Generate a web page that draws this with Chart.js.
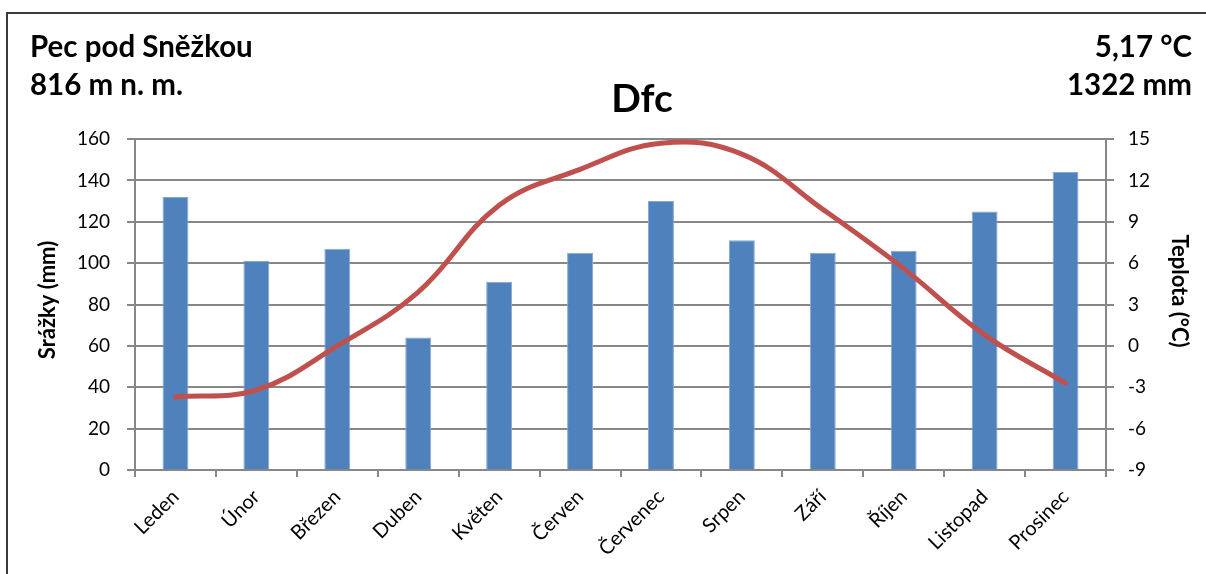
<!DOCTYPE html>
<html lang="cs">
<head>
<meta charset="utf-8">
<title>Pec pod Sněžkou – klimadiagram</title>
<script src="https://cdn.jsdelivr.net/npm/chart.js@4.4.1/dist/chart.umd.min.js"></script>
<style>
  html, body { margin: 0; padding: 0; background: #ffffff; }
  #wrap { width: 1206px; height: 574px; position: relative; }
  canvas { display: block; }
</style>
</head>
<body>
<div id="wrap"><canvas id="c" width="1206" height="574"></canvas></div>
<script>
// Měsíce
const months = ['Leden', 'Únor', 'Březen', 'Duben', 'Květen', 'Červen',
                'Červenec', 'Srpen', 'Září', 'Říjen', 'Listopad', 'Prosinec'];
// Měsíční srážky (mm)
const precipitation = [132, 101, 107, 64, 91, 105, 130, 111, 105, 106, 125, 144];
// Průměrná měsíční teplota (°C)
const temperature = [-3.7, -3.2, 0.0, 3.9, 10.2, 12.8, 14.7, 13.9, 9.9, 5.6, 0.8, -2.7];
// Rozsahy os
const precipAxis = { min: 0, max: 160, step: 20 };
const tempAxis = { min: -9, max: 15, step: 3 };

const station = 'Pec pod Sněžkou';
const altitude = '816 m n. m.';
const meanTemp = '5,17 °C';
const totalPrecip = '1322 mm';
const climate = 'Dfc';

const FONT = 'Lato, "Open Sans", "DejaVu Sans", sans-serif';
const GRID = '#878787';

// Rámeček, nadpisy a popisky os
const decorations = {
  id: 'decorations',
  afterDraw(chart) {
    const ctx = chart.ctx;
    ctx.save();

    // rámeček grafu
    ctx.strokeStyle = '#3a3a3a';
    ctx.lineWidth = 2;
    ctx.beginPath();
    ctx.moveTo(7, 600);
    ctx.lineTo(7, 13);
    ctx.lineTo(1220, 13);
    ctx.stroke();

    ctx.fillStyle = '#000';
    ctx.textBaseline = 'alphabetic';

    ctx.font = 'bold 29.5px ' + FONT;
    ctx.textAlign = 'left';
    ctx.fillText(station, 30, 57);
    ctx.fillText(altitude, 30, 95);
    ctx.textAlign = 'right';
    ctx.fillText(meanTemp, 1192, 57);
    ctx.fillText(totalPrecip, 1192, 95);

    ctx.font = 'bold 39px ' + FONT;
    ctx.textAlign = 'center';
    ctx.fillText(climate, 642, 112);

    // popisky os
    ctx.font = 'bold 22px ' + FONT;
    ctx.textBaseline = 'middle';

    ctx.save();
    ctx.translate(48, 300);
    ctx.rotate(-Math.PI / 2);
    ctx.fillText('Srážky (mm)', 0, 0);
    ctx.restore();

    ctx.save();
    ctx.translate(1179, 291);
    ctx.rotate(Math.PI / 2);
    ctx.fillText('Teplota (°C)', 0, 0);
    ctx.restore();

    ctx.restore();
  }
};

new Chart(document.getElementById('c'), {
  type: 'bar',
  data: {
    labels: months,
    datasets: [
      {
        type: 'line',
        label: 'Teplota',
        data: temperature,
        yAxisID: 'y1',
        borderColor: '#C0504D',
        borderWidth: 5,
        borderCapStyle: 'round',
        borderJoinStyle: 'round',
        tension: 0.4,
        pointRadius: 0,
        fill: false,
        order: 0
      },
      {
        type: 'bar',
        label: 'Srážky',
        data: precipitation,
        yAxisID: 'y',
        backgroundColor: '#4F81BD',
        borderColor: '#86A8D4',
        borderWidth: 1,
        barPercentage: 0.32,
        categoryPercentage: 1.0,
        order: 1
      }
    ]
  },
  options: {
    responsive: false,
    animation: false,
    devicePixelRatio: 1,
    layout: { padding: { top: 139, left: 0, right: 0, bottom: 0 } },
    plugins: {
      legend: { display: false },
      tooltip: { enabled: false },
      title: { display: false }
    },
    scales: {
      x: {
        type: 'category',
        offset: true,
        grid: {
          offset: true,
          drawOnChartArea: false,
          drawTicks: true,
          tickLength: 7,
          color: GRID,
          lineWidth: 2
        },
        border: { display: true, color: GRID, width: 2 },
        ticks: {
          minRotation: 45,
          maxRotation: 45,
          autoSkip: false,
          padding: 8,
          color: '#000',
          font: { family: FONT, size: 20 }
        },
        afterFit(scale) { scale.height = 104; }
      },
      y: {
        position: 'left',
        min: precipAxis.min,
        max: precipAxis.max,
        ticks: {
          stepSize: precipAxis.step,
          padding: 17,
          color: '#000',
          font: { family: FONT, size: 19 }
        },
        grid: { color: GRID, lineWidth: 2, tickLength: 8, drawTicks: true },
        border: { display: true, color: GRID, width: 2 },
        afterFit(scale) { scale.width = 135; }
      },
      y1: {
        position: 'right',
        min: tempAxis.min,
        max: tempAxis.max,
        ticks: {
          stepSize: tempAxis.step,
          padding: 14,
          color: '#000',
          font: { family: FONT, size: 19 }
        },
        grid: { drawOnChartArea: false, color: GRID, lineWidth: 2, tickLength: 8, drawTicks: true },
        border: { display: true, color: GRID, width: 2 },
        afterFit(scale) { scale.width = 100; }
      }
    }
  },
  plugins: [decorations]
});
</script>
</body>
</html>
